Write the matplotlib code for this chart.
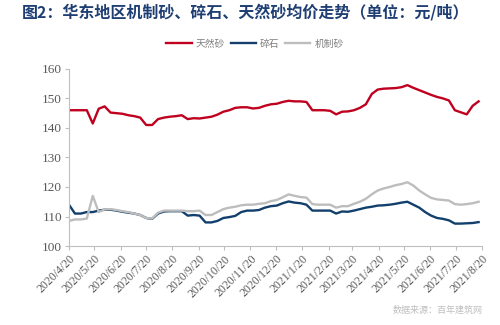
import matplotlib.pyplot as plt
import pandas as pd

# 华东地区周度均价（元/吨）
dates = pd.date_range("2020-04-20", "2021-08-20", freq="7D")

natural_sand = [
    146, 146, 146, 146, 141.5, 146.5, 147.3, 145.2, 145, 144.8,
    144.3, 144, 143.5, 141, 141, 143, 143.5, 143.8, 144, 144.3,
    143, 143.3, 143.2, 143.5, 143.8, 144.5, 145.5, 146, 146.8, 147,
    147, 146.6, 146.8, 147.5, 148, 148.2, 148.8, 149.2, 149, 149,
    148.8, 146, 146, 146, 145.8, 144.6, 145.5, 145.6, 146, 146.8,
    148, 151.5, 153, 153.3, 153.4, 153.5, 153.8, 154.5, 153.6, 152.8,
    152, 151.2, 150.5, 150, 149.3, 146, 145.3, 144.6, 147.5, 149,
]
gravel = [
    114, 111, 111, 111.5, 111.5, 112, 112.3, 112.3, 112, 111.6,
    111.3, 111, 110.5, 109.5, 109.2, 111, 111.7, 111.8, 111.8, 111.8,
    110.3, 110.5, 110.3, 108, 108, 108.5, 109.5, 109.8, 110.2, 111.5,
    112, 112, 112.2, 113, 113.5, 113.7, 114.5, 115.1, 114.7, 114.5,
    114, 112, 112, 112, 112, 111, 111.7, 111.6, 112, 112.5,
    113, 113.3, 113.7, 113.8, 114, 114.3, 114.7, 115, 114, 113,
    111.5, 110.3, 109.5, 109.2, 108.7, 107.6, 107.6, 107.7, 107.8, 108.1,
]
machine_sand = [
    108.5, 109, 109, 109.3, 117, 111.5, 112.4, 112.5, 112.2, 111.8,
    111.5, 111, 110.5, 109.5, 109.3, 111.3, 112, 112, 112, 112,
    111.8, 111.8, 112, 110.5, 110.5, 111.5, 112.5, 113, 113.3, 113.8,
    114, 114, 114.3, 114.5, 115.2, 115.6, 116.5, 117.5, 117, 116.6,
    116.4, 114.2, 114, 114, 114, 113, 113.5, 113.5, 114.3, 115,
    116, 117.5, 118.8, 119.5, 120, 120.6, 121, 121.6, 120.5, 118.8,
    117.5, 116.3, 115.8, 115.6, 115.4, 114.2, 114, 114.2, 114.5, 115,
]

# 每月20日一个刻度
tick_dates = pd.date_range("2020-04-01", "2021-08-01", freq="MS") + pd.Timedelta(days=19)
tick_labels = [f"{d.year}/{d.month}/{d.day}" for d in tick_dates]

plt.rcParams["font.family"] = ["Noto Sans CJK SC", "DejaVu Sans"]

fig = plt.figure(figsize=(5, 3.25), dpi=100)
ax = fig.add_axes([0.138, 0.243, 0.826, 0.545])

ax.plot(dates, natural_sand, color="#C0001F", lw=1.7, label="天然砂")
ax.plot(dates, gravel, color="#123F6C", lw=1.7, label="碎石")
ax.plot(dates, machine_sand, color="#BDBDBD", lw=1.7, label="机制砂")

ax.set_xlim(tick_dates[0], tick_dates[-1])
ax.set_ylim(100, 160)
ax.set_yticks(range(100, 161, 10))
ax.set_xticks(tick_dates)
ax.set_xticklabels(tick_labels, rotation=45, ha="right", rotation_mode="anchor",
                   family="Liberation Serif", fontsize=8.5, color="#595959")
for lab in ax.get_yticklabels():
    lab.set_family("Liberation Serif")
    lab.set_fontsize(9.5)
    lab.set_color("#595959")

for side in ("top", "right"):
    ax.spines[side].set_visible(False)
for side in ("left", "bottom"):
    ax.spines[side].set_color("#BFBFBF")
    ax.spines[side].set_linewidth(0.8)
ax.tick_params(axis="x", length=3, color="#BFBFBF", pad=2)
ax.tick_params(axis="y", length=3, color="#BFBFBF", pad=2)

fig.text(0.044, 0.963, "图2：华东地区机制砂、碎石、天然砂均价走势（单位：元/吨）",
         fontsize=11.5, fontweight="bold", color="#1F3F74", va="center", ha="left")

fig.legend(loc="center", bbox_to_anchor=(0.51, 0.865), ncol=3, frameon=False,
           fontsize=7, labelcolor="#7F7F7F", handlelength=2.6, columnspacing=0.6,
           handletextpad=0.4)

fig.text(0.965, 0.045, "数据来源：百年建筑网", fontsize=6.5, color="#BFBFBF",
         ha="right", va="center")

fig.savefig("out.png", dpi=100)
